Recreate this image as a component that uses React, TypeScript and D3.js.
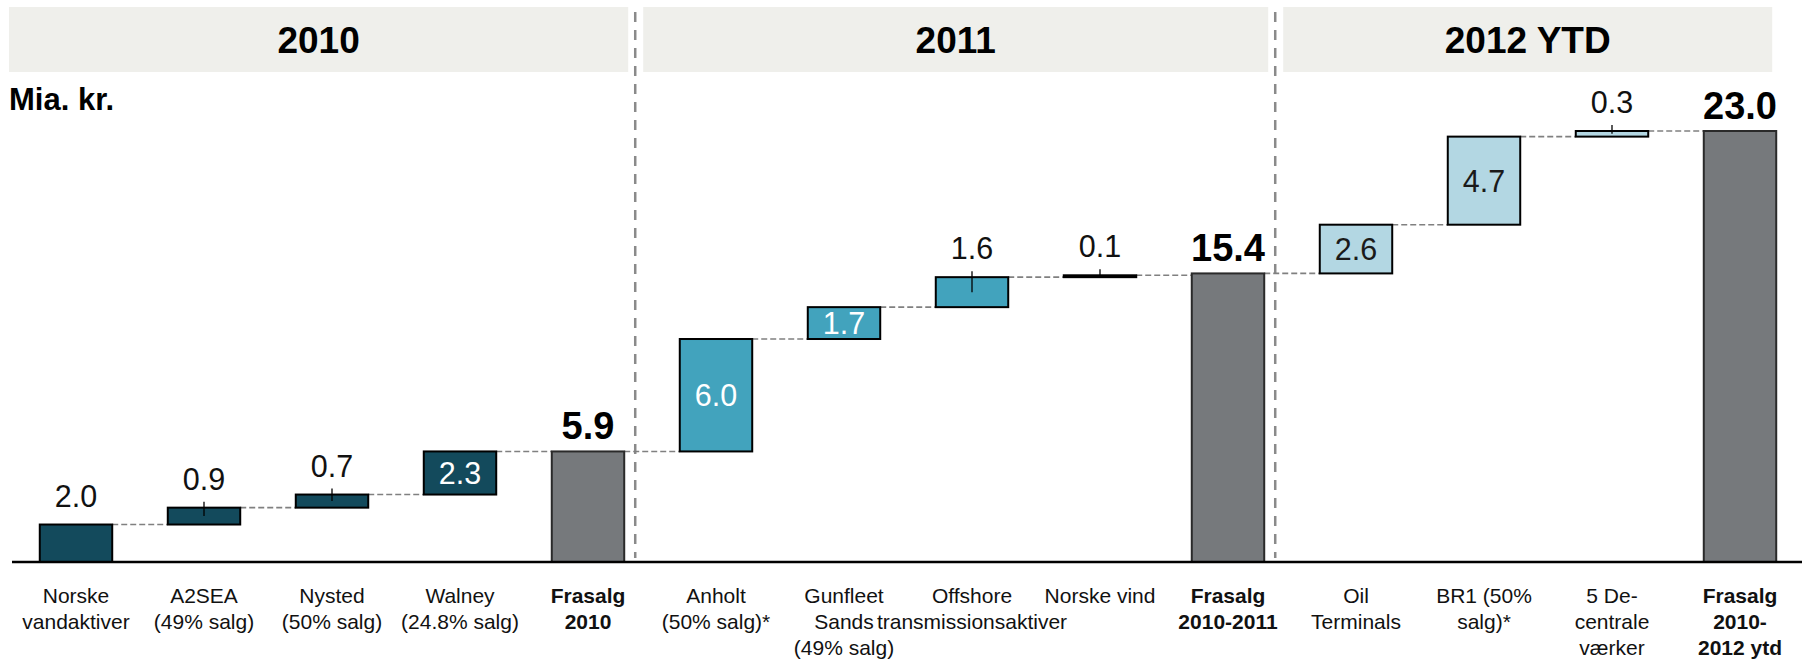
import React from "react";
import * as d3 from "d3";

const W = 1802;
const H = 659;

const categoryLines: string[][] = [
  ["Norske", "vandaktiver"],
  ["A2SEA", "(49% salg)"],
  ["Nysted", "(50% salg)"],
  ["Walney", "(24.8% salg)"],
  ["Frasalg", "2010"],
  ["Anholt", "(50% salg)*"],
  ["Gunfleet", "Sands", "(49% salg)"],
  ["Offshore", "transmissionsaktiver"],
  ["Norske vind"],
  ["Frasalg", "2010-2011"],
  ["Oil", "Terminals"],
  ["BR1 (50%", "salg)*"],
  ["5 De-", "centrale", "værker"],
  ["Frasalg", "2010-", "2012 ytd"],
];
const values: number[] = [2.0, 0.9, 0.7, 2.3, 5.9, 6.0, 1.7, 1.6, 0.1, 15.4, 2.6, 4.7, 0.3, 23.0];
const isTotal: boolean[] = [false, false, false, false, true, false, false, false, false, true, false, false, false, true];
const groupOf: number[] = [0, 0, 0, 0, 0, 1, 1, 1, 1, 1, 2, 2, 2, 2];
const groupNames: string[] = ["2010", "2011", "2012 YTD"];
const groupLastIndex: number[] = [4, 9, 13];
const unitLabel = "Mia. kr.";

const groupColors = ["#134a5c", "#42a3bd", "#b3d7e3"];
const insideTextColors = ["#ffffff", "#ffffff", "#1a1a1a"];
const totalColor = "#76797c";
const FONT = "'Liberation Sans', Arial, Helvetica, sans-serif";

export default function App() {
  const ids = values.map((_, i) => String(i));
  const x = d3.scaleBand<string>().domain(ids).range([12, 1804]).paddingInner(0.434).paddingOuter(0.217);
  const y = d3.scaleLinear().domain([0, 23]).range([562, 131]);
  const bw = x.bandwidth();

  let running = 0;
  const bars = values.map((v, i) => {
    let b0: number, b1: number;
    if (isTotal[i]) {
      b0 = 0;
      b1 = v;
    } else {
      b0 = running;
      b1 = running + v;
    }
    running = b1;
    return { i, v, b0, b1, total: isTotal[i], g: groupOf[i] };
  });

  const seps = groupLastIndex.slice(0, -1).map((li) => (x(String(li)) as number) + bw + 11);
  const headerX0 = groupNames.map((_, g) => (g === 0 ? 9 : seps[g - 1] + 8));
  const headerX1 = groupNames.map((_, g) =>
    g === groupNames.length - 1 ? (x(String(groupLastIndex[g])) as number) + bw - 4 : seps[g] - 7
  );

  return (
    <svg width={W} height={H} style={{ position: "absolute", left: 0, top: 0, display: "block", background: "#fff" }} fontFamily={FONT}>
      {groupNames.map((name, g) => (
        <g key={name}>
          <rect x={headerX0[g]} y={7} width={headerX1[g] - headerX0[g]} height={65} fill="#efefeb" />
          <text x={(headerX0[g] + headerX1[g]) / 2} y={53} textAnchor="middle" fontSize={37} fontWeight="bold" fill="#000">
            {name}
          </text>
        </g>
      ))}
      {seps.map((sx, k) => (
        <line key={k} x1={sx} x2={sx} y1={12} y2={558} stroke="#8a8a8a" strokeWidth={2.5} strokeDasharray="10 8" />
      ))}
      <text x={9} y={110} fontSize={31} fontWeight="bold" fill="#000">
        {unitLabel}
      </text>

      {bars.slice(0, -1).map((b, k) => {
        const x1 = (x(String(b.i)) as number) + bw;
        const x2 = x(String(b.i + 1)) as number;
        return (
          <line key={"c" + k} x1={x1} x2={x2} y1={y(b.b1)} y2={y(b.b1)} stroke="#808080" strokeWidth={1.6} strokeDasharray="6 3" />
        );
      })}

      {bars.map((b) => {
        const bx = x(String(b.i)) as number;
        const top = y(b.b1);
        const bot = y(b.b0);
        return (
          <rect
            key={"b" + b.i}
            x={bx}
            y={top}
            width={bw}
            height={Math.max(bot - top, 0.5)}
            fill={b.total ? totalColor : groupColors[b.g]}
            stroke={b.total ? "#2a2a2a" : "#000"}
            strokeWidth={2}
          />
        );
      })}

      {bars.map((b) => {
        const cx = (x(String(b.i)) as number) + bw / 2;
        const top = y(b.b1);
        const bot = y(b.b0);
        const label = b.v.toFixed(1);
        if (b.total) {
          return (
            <text key={"l" + b.i} x={cx} y={top - 12} textAnchor="middle" fontSize={38} fontWeight="bold" fill="#000">
              {label}
            </text>
          );
        }
        const inside = b.i > 0 && b.v >= 1.65;
        if (inside) {
          return (
            <text key={"l" + b.i} x={cx} y={(top + bot) / 2 + 11} textAnchor="middle" fontSize={30.5} fill={insideTextColors[b.g]}>
              {label}
            </text>
          );
        }
        return (
          <g key={"l" + b.i}>
            {b.i > 0 && <line x1={cx} x2={cx} y1={top - 6} y2={(top + bot) / 2} stroke="#000" strokeWidth={1.3} />}
            <text x={cx} y={top - 18} textAnchor="middle" fontSize={30.5} fill="#111">
              {label}
            </text>
          </g>
        );
      })}

      <line x1={12} x2={W} y1={y(0)} y2={y(0)} stroke="#000" strokeWidth={2.6} />

      {categoryLines.map((lines, i) => {
        const cx = (x(String(i)) as number) + bw / 2;
        return (
          <text key={"t" + i} x={cx} y={603} textAnchor="middle" fontSize={21} fontWeight={isTotal[i] ? "bold" : "normal"} fill="#111">
            {lines.map((ln, k) => (
              <tspan key={k} x={cx} y={603 + k * 26}>
                {ln}
              </tspan>
            ))}
          </text>
        );
      })}
    </svg>
  );
}
